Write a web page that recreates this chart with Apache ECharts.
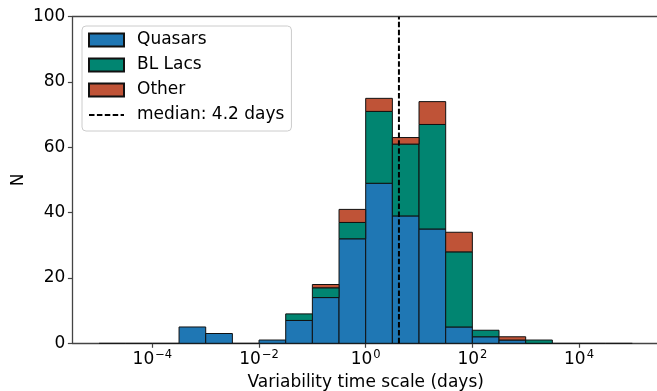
<!DOCTYPE html>
<html>
<head>
<meta charset="utf-8">
<script src="https://cdn.jsdelivr.net/npm/echarts@6/dist/echarts.min.js"></script>
<style>html,body{margin:0;padding:0;background:#fff;}#c{width:657px;height:391px;}</style>
</head>
<body>
<div id="c"></div>
<script>
// log10 of bin left edges (bin width 0.5 decade)
const binLeft = [-5,-4.5,-4,-3.5,-3,-2.5,-2,-1.5,-1,-0.5,0,0.5,1,1.5,2,2.5,3,3.5,4,4.5];
const binWidth = 0.5;
const quasars = [0,0,0,5,3,0,1,7,14,32,49,39,35,5,2,1,0,0,0,0];
const blLacs  = [0,0,0,0,0,0,0,2,3,5,22,22,32,23,2,0,1,0,0,0];
const other   = [0,0,0,0,0,0,0,0,1,4,4,2,7,6,0,1,0,0,0,0];
const medianDays = 4.2;
const xTicks = [-4,-2,0,2,4];
const names = ['Quasars','BL Lacs','Other'];
const colors = ['#1f77b4','#018571','#bf5337'];
const FONT = 'DejaVu Sans';
const FS = 17;

function stackData(idx){
  const groups=[quasars,blLacs,other];
  return binLeft.map((x,i)=>{
    let base=0; for(let k=0;k<idx;k++) base+=groups[k][i];
    return [x, x+binWidth, base, base+groups[idx][i]];
  });
}
function renderBar(drawZero){
  return function(params, api){
    const x0=api.value(0), x1=api.value(1), b=api.value(2), t=api.value(3);
    const p0=api.coord([x0,t]), p1=api.coord([x1,b]);
    if (t===b){
      if(!drawZero) return null;
      return {type:'line', shape:{x1:p0[0],y1:p1[1],x2:p1[0],y2:p1[1]}, style:{stroke:'#111',lineWidth:1}};
    }
    return {type:'rect', shape:{x:p0[0],y:p0[1],width:p1[0]-p0[0],height:p1[1]-p0[1]},
      style:{fill:api.visual('color'),stroke:'#111',lineWidth:1}};
  };
}
const series = names.map((n,i)=>({
  name:n, type:'custom', renderItem:renderBar(i===0), data:stackData(i),
  itemStyle:{color:colors[i],borderColor:'#111',borderWidth:1},
  encode:{x:[0,1],y:[2,3]}, z:2+i
}));
const m = Math.log10(medianDays);
const medName = 'median: '+medianDays+' days';
series.push({
  name:medName, type:'line', data:[[m,0],[m,100]], symbol:'none',
  itemStyle:{color:'#000'},
  lineStyle:{color:'#000',width:2,type:[5.5,2.4]}, z:10, silent:true
});
const chart = echarts.init(document.getElementById('c'),null,{renderer:'canvas'});
chart.setOption({
  animation:false,
  grid:{left:72.4,right:-2,top:16.7,bottom:47.7,show:false,containLabel:false,outerBoundsMode:'none'},
  legend:{
    orient:'vertical', left:82, top:26, padding:[5,7,7,6],
    itemWidth:35, itemHeight:13, itemGap:7,
    backgroundColor:'rgba(255,255,255,0.8)', borderColor:'#ccc', borderWidth:1, borderRadius:4,
    textStyle:{fontFamily:FONT,fontSize:FS,color:'#000',lineHeight:18,padding:[0,0,0,8]},
    data:[{name:'Quasars',icon:'rect'},{name:'BL Lacs',icon:'rect'},{name:'Other',icon:'rect'},
      {name:medName,itemStyle:{color:'rgba(0,0,0,0)',borderColor:'rgba(0,0,0,0)',borderWidth:0}}]
  },
  xAxis:[{
    type:'value', min:-5.5, max:5.5,
    name:'Variability time scale (days)', nameLocation:'middle', nameGap:31, nameMoveOverlap:false,
    nameTextStyle:{fontFamily:FONT,fontSize:FS,color:'#000'},
    axisLine:{onZero:false,lineStyle:{color:'#444',width:1.3}},
    axisTick:{show:true,length:4.5,lineStyle:{color:'#444',width:1.2},customValues:xTicks},
    axisLabel:{customValues:xTicks,margin:8,color:'#000',fontFamily:FONT,fontSize:FS,
      formatter:function(v){const e=Math.round(v);return '{b|10}{s|'+(e<0?'\u2212':'')+Math.abs(e)+'}';},
      rich:{b:{fontFamily:FONT,fontSize:FS,color:'#000',lineHeight:17,verticalAlign:'bottom'},
            s:{fontFamily:FONT,fontSize:11.5,color:'#000',lineHeight:11.5,verticalAlign:'bottom',padding:[0,0,7,1]}}},
    splitLine:{show:false}
  },{
    type:'value', min:-5.5, max:5.5, position:'top',
    axisLine:{show:true,onZero:false,lineStyle:{color:'#444',width:1.3}},
    axisTick:{show:false}, axisLabel:{show:false}, splitLine:{show:false}
  }],
  yAxis:{
    type:'value', min:0, max:100, interval:20,
    name:'N', nameLocation:'middle', nameGap:45, nameRotate:90, nameMoveOverlap:false,
    nameTextStyle:{fontFamily:FONT,fontSize:FS,color:'#000'},
    axisLine:{show:true,onZero:false,lineStyle:{color:'#444',width:1.3}},
    axisTick:{show:true,length:4.5,lineStyle:{color:'#444',width:1.2}},
    axisLabel:{margin:7,color:'#000',fontFamily:FONT,fontSize:FS},
    splitLine:{show:false}
  },
  series:series
});
</script>
</body>
</html>
